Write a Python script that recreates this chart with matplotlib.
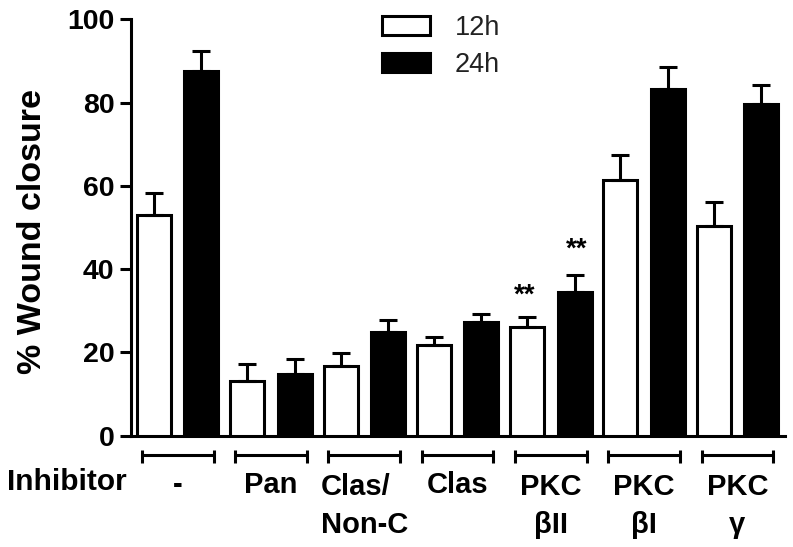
import matplotlib
matplotlib.use('Agg')
import matplotlib.pyplot as plt
import matplotlib.transforms as mtransforms
import numpy as np

plt.rcParams['font.family'] = ['Liberation Sans', 'DejaVu Sans']

groups = ['-', 'Pan', 'Clas/\nNon-C', 'Clas', 'PKC\nβII', 'PKC\nβI', 'PKC\nγ']
closure_12h = [53.0, 13.2, 16.8, 21.7, 26.1, 61.4, 50.4]
err_12h = [5.3, 4.0, 3.0, 2.0, 2.3, 6.0, 5.6]
closure_24h = [87.6, 14.8, 24.8, 27.2, 34.5, 83.2, 79.6]
err_24h = [4.8, 3.6, 3.0, 2.1, 4.1, 5.4, 4.5]
signif_12h = ['', '', '', '', '**', '', '']
signif_24h = ['', '', '', '', '**', '', '']

x = np.arange(len(groups))
off = 0.254
w = 0.364
lw = 2.2

fig = plt.figure(figsize=(7.93, 5.47), dpi=100)
ax = fig.add_axes([131 / 793, 1 - 435.5 / 547, 654 / 793, 416.2 / 547])

ekw = dict(ecolor='black', elinewidth=lw, capthick=lw)
b1 = ax.bar(x - off, closure_12h, w, yerr=[np.zeros(len(x)), err_12h],
            color='white', edgecolor='black', linewidth=lw, capsize=6.5,
            error_kw=ekw, label='12h', zorder=3)
b2 = ax.bar(x + off, closure_24h, w, yerr=[np.zeros(len(x)), err_24h],
            color='black', edgecolor='black', linewidth=lw, capsize=6.5,
            error_kw=ekw, label='24h', zorder=3)

# significance stars
for i in range(len(x)):
    if signif_12h[i]:
        ax.text(x[i] - off - 0.03, closure_12h[i] + err_12h[i] + 5.2, signif_12h[i],
                ha='center', va='center', fontsize=20, fontweight='bold')
    if signif_24h[i]:
        ax.text(x[i] + off + 0.02, closure_24h[i] + err_24h[i] + 6.0, signif_24h[i],
                ha='center', va='center', fontsize=20, fontweight='bold')

ax.set_xlim(-0.5, 6.51)
ax.set_ylim(0, 100)
ax.set_yticks([0, 20, 40, 60, 80, 100])
ax.set_xticks([])
ax.spines['top'].set_visible(False)
ax.spines['right'].set_visible(False)
ax.spines['left'].set_linewidth(lw)
ax.spines['bottom'].set_linewidth(lw)
ax.tick_params(axis='y', length=8, width=lw, labelsize=20.5, pad=4)
for lab in ax.get_yticklabels():
    lab.set_fontweight('bold')

ax.set_ylabel('% Wound closure', fontsize=24.5, fontweight='bold', va='center')
ax.yaxis.set_label_coords(-0.151, 0.49)

# brackets and group labels under the axis
for i, g in enumerate(groups):
    ax.plot([i - 0.385, i + 0.385], [-4.7, -4.7], color='black', lw=lw, clip_on=False,
            solid_capstyle='butt')
    for xe in (i - 0.385, i + 0.385):
        ax.plot([xe, xe], [-3.5, -6.6], color='black', lw=lw, clip_on=False,
                solid_capstyle='butt')
    # baseline alignment goes to the last line
    ybase = -23.4 if '\n' in g else -13.8
    ax.text(i, ybase, g, ha='center', va='baseline',
            multialignment='left' if '/' in g else 'center',
            fontsize=21, fontweight='bold', linespacing=1.45, clip_on=False)

trans = mtransforms.blended_transform_factory(fig.transFigure, ax.transData)
ax.text(7 / 793, -13.1, 'Inhibitor', transform=trans, ha='left', va='baseline',
        fontsize=21.5, fontweight='bold')

leg = ax.legend(handles=[b1, b2], loc='upper left', bbox_to_anchor=(382 / 793, 1 - 15 / 547),
                bbox_transform=fig.transFigure, frameon=False, fontsize=19.5,
                handlelength=1.78, handleheight=0.7, handletextpad=0.92,
                labelspacing=0.42, borderpad=0, borderaxespad=0)
for t in leg.get_texts():
    t.set_color('#222222')

fig.savefig('out.png', dpi=100)
